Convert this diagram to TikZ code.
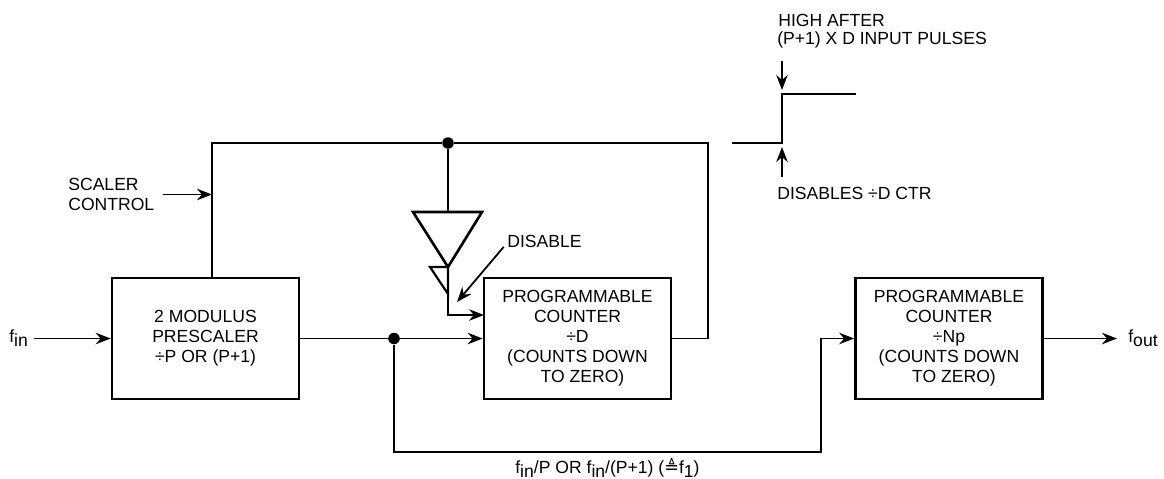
\documentclass[tikz,border=0pt]{standalone}
\usepackage{fontspec}
\setmainfont{Liberation Sans}
\newfontfamily\symfont{DejaVu Sans}
\usepackage{xcolor}
\usetikzlibrary{arrows.meta, positioning}

\newcommand{\lowtxt}[1]{\raisebox{-2.2pt}{#1}}

\tikzset{
  blockbox/.style={draw, line width=1.5pt, minimum width=3.74cm, minimum height=2.42cm, align=center, inner sep=0pt, font=\fontsize{10}{11.4}\selectfont},
  lbl/.style={inner sep=0pt, align=left, font=\fontsize{10}{11.4}\selectfont},
  tapdot/.style={circle, fill, inner sep=0pt, minimum size=0.23cm},
  wire/.style={line width=1pt, line join=miter},
  sig/.style={wire, ->}
}

\begin{document}
\begin{tikzpicture}[>={Stealth[length=3mm,width=2.3mm]}, node distance=2cm, on grid]
        \useasboundingbox (0,0) rectangle (23.28,-9.58);

        \node[blockbox] (presc) at (4.11,-6.77) {2 MODULUS\\PRESCALER\\÷P OR (P+1)};
        \node[blockbox] (ctrd) [right=7.44 of presc] {PROGRAMMABLE\\COUNTER\\÷D\\(COUNTS DOWN\hspace*{0.14cm}\\\hspace*{0.2cm}TO ZERO)};
        \node[blockbox] (ctrn) [right=7.43 of ctrd] {PROGRAMMABLE\\COUNTER\\÷Np\\(COUNTS DOWN\hspace*{0.14cm}\\\hspace*{0.2cm}TO ZERO)};

        \node[lbl, anchor=west] (fin) at (0.18,-6.77) {f\lowtxt{in}};
        \node[lbl, anchor=west] (fout) at (22.56,-6.77) {f\lowtxt{out}};
        \node[lbl, anchor=west] (scaler) at (1.36,-3.89) {SCALER\\CONTROL};
        \node[lbl, anchor=west] (disable) at (10.14,-4.82) {DISABLE};
        \node[lbl, anchor=west] (high) at (15.56,-0.4) {HIGH AFTER};
        \node[lbl, anchor=west] (pulses) at (15.54,-0.8) {(P+1) X D INPUT PULSES};
        \node[lbl, anchor=west] (disctr) at (15.54,-3.86) {DISABLES ÷D CTR};
        \node[lbl, anchor=west] (ratio) at (10.3,-9.36) {f\lowtxt{in}/P OR f\lowtxt{in}/(P+1) ({\symfont ≜}f\lowtxt{1})};

        % feedback line
        \coordinate (ptop) at (4.24,-2.86);
        \coordinate (fbr) at (14.16,-2.86);
        \coordinate (sct) at (4.24,-3.89);
        \node[tapdot] (tap) at (8.96,-2.86) {};
        \draw[wire] (presc.north -| ptop) -- (ptop) -- (tap) -- (fbr) |- (ctrd.east);
        \draw[sig, shorten <=0.16cm] (scaler.east) -- (sct);

        % buffers
        \coordinate (bufl) at (8.26,-4.24);
        \coordinate (bufr) at (9.64,-4.24);
        \coordinate (bufa) at (8.96,-5.34);
        \coordinate (bufs) at (8.6,-5.34);
        \coordinate (bufb) at (8.96,-5.88);
        \coordinate (bufi) at (9.68,-6.3);
        \coordinate (bufm) at (8.96,-4.24);
        \draw[wire] (tap) -- (bufm);
        \draw[line width=1.5pt, line join=miter] (bufl) -- (bufr) -- (bufa) -- cycle;
        \draw[line width=1.2pt, line join=miter] (bufs) -- (bufa) -- (bufb) -- cycle;
        \draw[sig] (bufb) |- (bufi);
        \coordinate (distip) at (9.14,-6.04);
        \draw[sig, shorten <=0.1cm] (disable.west) ++(0,-0.04) -- (distip);

        % signal path
        \node[tapdot] (split) at (7.88,-6.77) {};
        \coordinate (lo1) at (7.88,-9.04);
        \coordinate (lo2) at (16.42,-9.04);
        \draw[sig, shorten <=0.12cm] (fin.east) -- (presc.west);
        \draw[sig] (presc.east) -- (ctrd.west);
        \draw[sig] (split) -- (lo1) -- (lo2) |- (ctrn.west);
        \draw[sig, shorten >=0.22cm] (ctrn.east) -- (fout.west);

        % waveform
        \coordinate (wa) at (14.64,-2.86);
        \coordinate (wb) at (15.64,-2.86);
        \coordinate (wc) at (15.64,-1.88);
        \coordinate (wd) at (17.12,-1.88);
        \coordinate (higharr) at (15.64,-1.22);
        \coordinate (lowarr) at (15.64,-3.54);
        \draw[line width=1.1pt] (wa) -- (wb) -- (wc) -- (wd);
        \draw[sig, shorten >=0.08cm] (higharr) -- (wc);
        \draw[sig, shorten >=0.08cm] (lowarr) -- (wb);
\end{tikzpicture}
\end{document}
